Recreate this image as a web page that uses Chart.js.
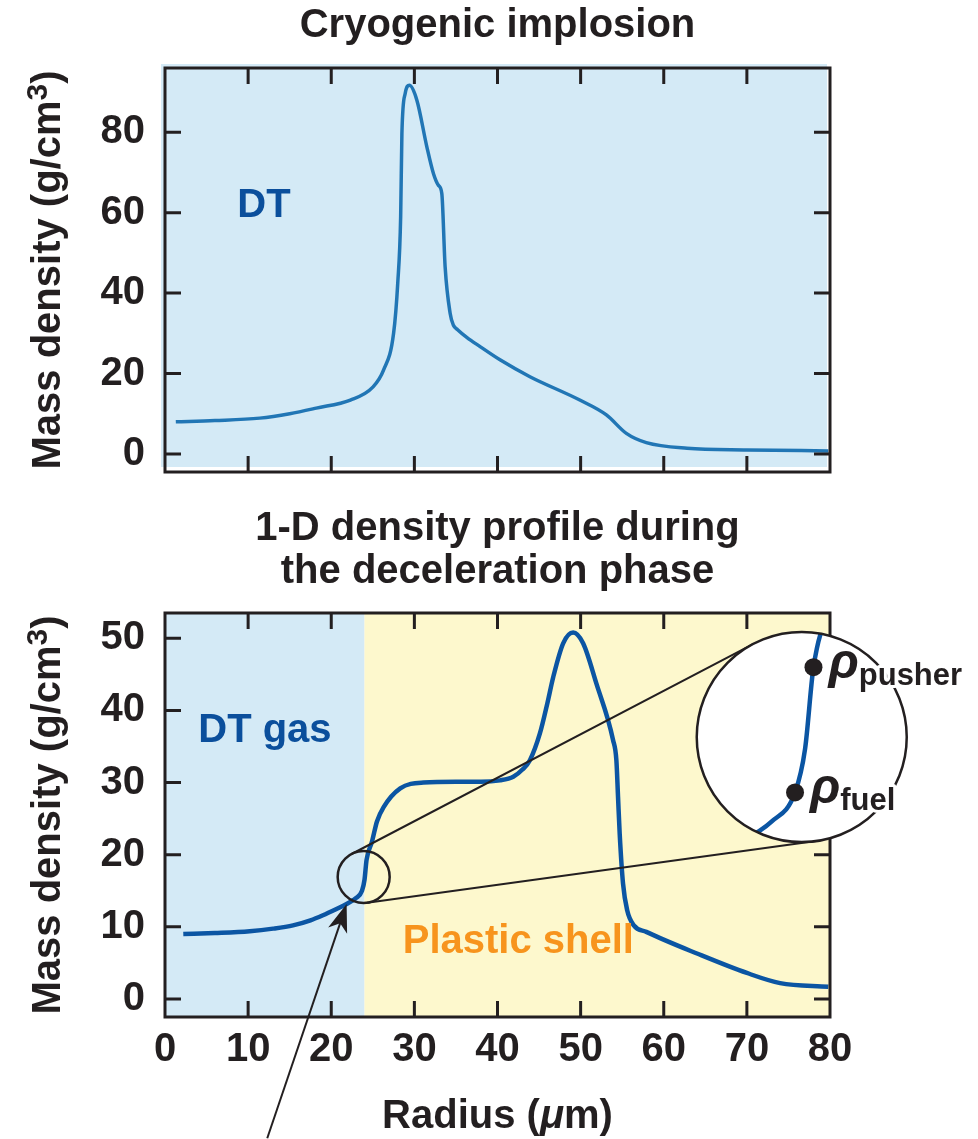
<!DOCTYPE html>
<html>
<head>
<meta charset="utf-8">
<script src="https://cdn.jsdelivr.net/npm/chart.js@4.4.1/dist/chart.umd.min.js"></script>
<style>
  html, body { margin: 0; padding: 0; background: #fff; overflow: hidden; }
  .panel { position: absolute; left: 0; }
  #topPanel { top: 0; }
  #botPanel { top: 500px; }
</style>
</head>
<body>
<div class="panel" id="topPanel"><canvas id="chartTop" width="978" height="500"></canvas></div>
<div class="panel" id="botPanel"><canvas id="chartBot" width="978" height="639"></canvas></div>
<script>
// --- data ---

// cryogenic implosion profile (radius in um, density in g/cm3)
const radiusTop = [1.3, 6, 11.4, 15, 18.2, 22.3, 25.0, 26.3, 27.5, 28.0, 28.35, 28.5, 28.9, 29.4,
  30.3, 31.5, 32.3, 32.9, 33.3, 33.7, 34.3, 34.7, 35.2, 36.3, 37.9, 40.3, 43.9, 49.9, 53.1, 55.5,
  57.9, 62.8, 70.0, 79.8];
const densityTop = [8.0, 8.3, 8.9, 10.0, 11.4, 13.4, 16.6, 20.9, 30, 42.5, 59, 79.7, 89.7, 91.7,
  88, 76.4, 69.7, 66.8, 64.8, 46.5, 35.0, 32.0, 30.9, 29.0, 26.7, 23.4, 19.2, 13.4, 9.7, 5.1,
  2.8, 1.4, 1.0, 0.75];

// deceleration phase profile
const radiusBot = [2.2, 6, 10.2, 13, 15.4, 17.5, 19.0, 20.5, 21.9, 23.0, 23.7, 24.0, 24.25, 24.9,
  25.5, 26.3, 28.3, 31.1, 35, 38, 40.3, 41.9, 43.0, 43.9, 45.1, 46.0, 46.7, 47.9, 49.1, 50.3, 51.9,
  53.9, 54.3, 54.5, 54.7, 55.1, 55.6, 56.4, 57.9, 64.0, 70.0, 74.0, 79.8];
const densityBot = [9.0, 9.15, 9.4, 9.75, 10.2, 10.9, 11.6, 12.4, 13.2, 14.0, 15.0, 16.5, 19.3, 21.8,
  24.6, 26.6, 29.2, 30.0, 30.1, 30.1, 30.3, 30.8, 31.8, 33.1, 36.8, 41, 44.6, 49.3, 50.8, 49.3, 43.7,
  35.9, 33.1, 28, 22.9, 16.0, 12.3, 10.2, 9.3, 6.3, 3.6, 2.2, 1.7];

const xTicks = [0, 10, 20, 30, 40, 50, 60, 70, 80];
const yTicksTop = [0, 20, 40, 60, 80];
const yTicksBot = [0, 10, 20, 30, 40, 50];

const gasEdge = 24;              // DT gas / plastic shell boundary
const fuelPoint = [23.7, 15.0];  // rho_fuel
const pusherPoint = [24.25, 19.3]; // rho_pusher
const lensSpot = [23.9, 16.9];   // magnified spot
const insetSpot = [76.6, 36.3];  // where the magnified view sits
const arrowFrom = [12.3, -19.3];
const arrowTo = [21.85, 13.15];

const COLORS = {
  ink: '#231f20',
  lineTop: '#2176b5',
  lineBot: '#0b55a3',
  gas: '#d4eaf6',
  shell: '#fdf8cd',
  label: '#0b4f9c',
  orange: '#f7941d'
};
const FONT = "'Liberation Sans', Arial, Helvetica, sans-serif";
const TICK = 16;

Chart.defaults.font.family = FONT;
Chart.defaults.color = COLORS.ink;

// --- helpers ---

function points(xs, ys) {
  return xs.map((x, i) => ({ x: x, y: ys[i] }));
}

function at(chart, p) {
  return { x: chart.scales.x.getPixelForValue(p[0]), y: chart.scales.y.getPixelForValue(p[1]) };
}

function drawDensityTitle(ctx, cy) {
  const main = 'Mass density (g/cm', sup = '3', tail = ')';
  ctx.save();
  ctx.translate(60, cy);
  ctx.rotate(-Math.PI / 2);
  ctx.fillStyle = COLORS.ink;
  ctx.textBaseline = 'alphabetic';
  ctx.textAlign = 'left';
  ctx.font = 'bold 40px ' + FONT;
  const w1 = ctx.measureText(main).width, w3 = ctx.measureText(tail).width;
  ctx.font = 'bold 30px ' + FONT;
  const w2 = ctx.measureText(sup).width;
  let x0 = -(w1 + w2 + w3) / 2;
  ctx.font = 'bold 40px ' + FONT;
  ctx.fillText(main, x0, 0);
  ctx.font = 'bold 30px ' + FONT;
  ctx.fillText(sup, x0 + w1, -13);
  ctx.font = 'bold 40px ' + FONT;
  ctx.fillText(tail, x0 + w1 + w2, 0);
  ctx.restore();
}

function drawArrow(ctx, from, to) {
  const ang = Math.atan2(to.y - from.y, to.x - from.x);
  const c = Math.cos(ang), s = Math.sin(ang);
  const len = 28, half = 10;
  ctx.save();
  ctx.strokeStyle = COLORS.ink;
  ctx.fillStyle = COLORS.ink;
  ctx.lineWidth = 2;
  ctx.beginPath();
  ctx.moveTo(from.x, from.y);
  ctx.lineTo(to.x - len * 0.7 * c, to.y - len * 0.7 * s);
  ctx.stroke();
  ctx.beginPath();
  ctx.moveTo(to.x, to.y);
  ctx.lineTo(to.x - len * c - half * s, to.y - len * s + half * c);
  ctx.lineTo(to.x - len * 0.72 * c, to.y - len * 0.72 * s);
  ctx.lineTo(to.x - len * c + half * s, to.y - len * s - half * c);
  ctx.closePath();
  ctx.fill();
  ctx.restore();
}

// --- plugins ---

// plot backgrounds
const panelFill = {
  id: 'panelFill',
  beforeDatasetsDraw(chart, args, opts) {
    const { ctx, chartArea: a } = chart;
    ctx.save();
    if (opts.split) {
      const xe = chart.scales.x.getPixelForValue(gasEdge);
      ctx.fillStyle = COLORS.gas;
      ctx.fillRect(a.left, a.top, xe - a.left, a.bottom - a.top);
      ctx.fillStyle = COLORS.shell;
      ctx.fillRect(xe, a.top, a.right - xe, a.bottom - a.top);
    } else {
      ctx.fillStyle = COLORS.gas;
      ctx.fillRect(a.left - 4, a.top - 4, a.right - a.left + 1, a.bottom - a.top - 1);
    }
    ctx.restore();
  }
};

// box frame with inward ticks on all four sides
const frameTicks = {
  id: 'frameTicks',
  afterDatasetsDraw(chart, args, opts) {
    const { ctx, chartArea: a, scales: { x, y } } = chart;
    ctx.save();
    ctx.strokeStyle = COLORS.ink;
    ctx.lineWidth = 3;
    ctx.beginPath();
    xTicks.forEach(v => {
      if (v <= x.min || v >= x.max) return;
      const px = x.getPixelForValue(v);
      ctx.moveTo(px, a.top); ctx.lineTo(px, a.top + TICK);
      ctx.moveTo(px, a.bottom); ctx.lineTo(px, a.bottom - TICK);
    });
    opts.yTicks.forEach(v => {
      const py = y.getPixelForValue(v);
      ctx.moveTo(a.left, py); ctx.lineTo(a.left + TICK, py);
      ctx.moveTo(a.right, py); ctx.lineTo(a.right - TICK, py);
    });
    ctx.stroke();
    ctx.strokeRect(a.left, a.top, a.right - a.left, a.bottom - a.top);
    ctx.restore();
  }
};

// titles and in-plot labels
const panelText = {
  id: 'panelText',
  afterDraw(chart, args, opts) {
    const { ctx, chartArea: a } = chart;
    const cx = (a.left + a.right) / 2;
    ctx.save();
    ctx.fillStyle = COLORS.ink;
    ctx.textAlign = 'center';
    ctx.textBaseline = 'alphabetic';
    ctx.font = 'bold 40px ' + FONT;
    opts.title.forEach((line, i) => ctx.fillText(line, cx, opts.titleY[i]));
    drawDensityTitle(ctx, (a.top + a.bottom) / 2);

    ctx.textAlign = 'left';
    opts.labels.forEach(l => {
      const p = at(chart, l.pos);
      ctx.fillStyle = l.color;
      ctx.fillText(l.text, p.x, p.y);
    });

    if (opts.xTitle) {
      const parts = [['Radius (', 'bold'], ['\u03bc', 'italic bold'], ['m)', 'bold']];
      let total = 0;
      parts.forEach(pt => { ctx.font = pt[1] + ' 40px ' + FONT; total += ctx.measureText(pt[0]).width; });
      let px = cx - total / 2;
      ctx.fillStyle = COLORS.ink;
      parts.forEach(pt => {
        ctx.font = pt[1] + ' 40px ' + FONT;
        ctx.fillText(pt[0], px, opts.xTitleY);
        px += ctx.measureText(pt[0]).width;
      });
    }
    ctx.restore();
  }
};

// lens on the fuel/pusher interface and its magnified view
const zoomInset = {
  id: 'zoomInset',
  afterDatasetsDraw(chart) {
    const ctx = chart.ctx;
    const c1 = at(chart, lensSpot); c1.r = 26;
    const c2 = at(chart, insetSpot); c2.r = 105;
    const k = c2.r / c1.r;
    const mag = p => ({ x: c2.x + (p.x - c1.x) * k, y: c2.y + (p.y - c1.y) * k });

    ctx.save();
    ctx.strokeStyle = COLORS.ink;
    ctx.lineWidth = 2;

    // outer tangents between the two circles
    const dx = c2.x - c1.x, dy = c2.y - c1.y;
    const th = Math.atan2(dy, dx);
    const al = Math.acos((c1.r - c2.r) / Math.hypot(dx, dy));
    ctx.beginPath();
    [th + al, th - al].forEach(t => {
      ctx.moveTo(c1.x + c1.r * Math.cos(t), c1.y + c1.r * Math.sin(t));
      ctx.lineTo(c2.x + c2.r * Math.cos(t), c2.y + c2.r * Math.sin(t));
    });
    ctx.stroke();

    ctx.lineWidth = 2.5;
    ctx.beginPath();
    ctx.arc(c1.x, c1.y, c1.r, 0, Math.PI * 2);
    ctx.stroke();

    ctx.beginPath();
    ctx.arc(c2.x, c2.y, c2.r, 0, Math.PI * 2);
    ctx.fillStyle = '#fff';
    ctx.fill();

    // same curve, scaled up about the lens
    ctx.save();
    ctx.beginPath();
    ctx.arc(c2.x, c2.y, c2.r, 0, Math.PI * 2);
    ctx.clip();
    ctx.translate(c2.x, c2.y);
    ctx.scale(k, k);
    ctx.translate(-c1.x, -c1.y);
    ctx.beginPath();
    chart.getDatasetMeta(0).dataset.path(ctx);
    ctx.lineWidth = 4.5 / k;
    ctx.strokeStyle = COLORS.lineBot;
    ctx.stroke();
    ctx.restore();

    ctx.beginPath();
    ctx.arc(c2.x, c2.y, c2.r, 0, Math.PI * 2);
    ctx.stroke();

    // marked densities
    [[fuelPoint, 'fuel'], [pusherPoint, 'pusher']].forEach(([p, sub]) => {
      const d = mag(at(chart, p));
      ctx.fillStyle = COLORS.ink;
      ctx.beginPath();
      ctx.arc(d.x, d.y, 9, 0, Math.PI * 2);
      ctx.fill();

      ctx.textAlign = 'left';
      ctx.textBaseline = 'alphabetic';
      ctx.lineJoin = 'round';
      ctx.strokeStyle = '#fff';
      ctx.lineWidth = 6;
      ctx.font = 'italic bold 50px ' + FONT;
      const rx = d.x + 15, ry = d.y + 11;
      ctx.strokeText('\u03c1', rx, ry);
      ctx.fillText('\u03c1', rx, ry);
      const sx = rx + ctx.measureText('\u03c1').width;
      ctx.font = 'bold 31px ' + FONT;
      ctx.strokeText(sub, sx, ry + 7);
      ctx.fillText(sub, sx, ry + 7);
    });
    ctx.restore();

    drawArrow(ctx, at(chart, arrowFrom), at(chart, arrowTo));
  }
};

// --- charts ---

function makeScales(yMin, yMax, yTicks, xHeight, showX) {
  return {
    x: {
      type: 'linear', min: 0, max: 80,
      grid: { display: false, drawTicks: false },
      border: { display: false },
      ticks: { display: showX, padding: 9, autoSkip: false, maxRotation: 0,
        font: { size: 40, weight: 'bold' }, color: COLORS.ink },
      afterBuildTicks: s => { s.ticks = xTicks.map(v => ({ value: v })); },
      afterFit: s => { s.height = xHeight; s.paddingLeft = 0; s.paddingRight = 0; }
    },
    y: {
      type: 'linear', min: yMin, max: yMax,
      grid: { display: false, drawTicks: false },
      border: { display: false },
      ticks: { padding: 20, font: { size: 40, weight: 'bold' }, color: COLORS.ink },
      afterBuildTicks: s => { s.ticks = yTicks.map(v => ({ value: v })); },
      afterFit: s => { s.width = 165; s.paddingTop = 0; s.paddingBottom = 0; }
    }
  };
}

new Chart(document.getElementById('chartTop'), {
  type: 'line',
  data: {
    datasets: [{
      data: points(radiusTop, densityTop),
      borderColor: COLORS.lineTop, borderWidth: 3.5,
      pointRadius: 0, cubicInterpolationMode: 'monotone', fill: false
    }]
  },
  options: {
    responsive: false, animation: false, devicePixelRatio: 1,
    layout: { padding: { top: 68, right: 148, left: 0, bottom: 0 } },
    scales: makeScales(-4.5, 96, yTicksTop, 28, false),
    plugins: {
      legend: { display: false }, tooltip: { enabled: false },
      panelFill: { split: false },
      frameTicks: { yTicks: yTicksTop },
      panelText: {
        title: ['Cryogenic implosion'], titleY: [37],
        labels: [{ text: 'DT', pos: [8.7, 59], color: COLORS.label }]
      }
    }
  },
  plugins: [panelFill, frameTicks, panelText]
});

new Chart(document.getElementById('chartBot'), {
  type: 'line',
  data: {
    datasets: [{
      data: points(radiusBot, densityBot),
      borderColor: COLORS.lineBot, borderWidth: 4.5,
      pointRadius: 0, cubicInterpolationMode: 'monotone', fill: false
    }]
  },
  options: {
    responsive: false, animation: false, devicePixelRatio: 1,
    layout: { padding: { top: 113, right: 148, left: 0, bottom: 0 } },
    scales: makeScales(-2.5, 53.5, yTicksBot, 122, true),
    plugins: {
      legend: { display: false }, tooltip: { enabled: false },
      panelFill: { split: true },
      frameTicks: { yTicks: yTicksBot },
      panelText: {
        title: ['1-D density profile during', 'the deceleration phase'], titleY: [40, 83],
        labels: [
          { text: 'DT gas', pos: [4.0, 35.6], color: COLORS.label },
          { text: 'Plastic shell', pos: [28.6, 6.4], color: COLORS.orange }
        ],
        xTitle: true, xTitleY: 628
      }
    }
  },
  plugins: [panelFill, frameTicks, zoomInset, panelText]
});
</script>
</body>
</html>
